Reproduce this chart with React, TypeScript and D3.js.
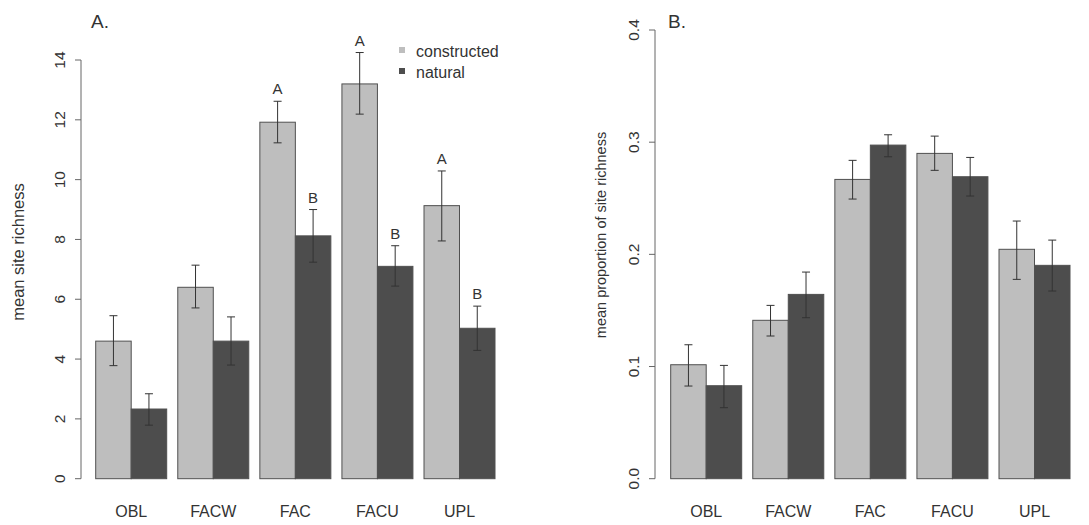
import * as d3 from "d3"

const categories = ["OBL", "FACW", "FAC", "FACU", "UPL"]
const seriesNames = ["constructed", "natural"]

// panel A: mean site richness
const richConstructed = [4.6, 6.4, 11.92, 13.2, 9.13]
const richConstructedLo = [3.78, 5.71, 11.23, 12.19, 7.95]
const richConstructedHi = [5.45, 7.14, 12.62, 14.25, 10.29]
const richNatural = [2.33, 4.6, 8.12, 7.1, 5.03]
const richNaturalLo = [1.79, 3.8, 7.24, 6.44, 4.29]
const richNaturalHi = [2.84, 5.41, 9.0, 7.79, 5.77]
const letterConstructed = ["", "", "A", "A", "A"]
const letterNatural = ["", "", "B", "B", "B"]
const richTicks = [0, 2, 4, 6, 8, 10, 12, 14]

// panel B: mean proportion of site richness
const propConstructed = [0.1016, 0.1412, 0.2668, 0.29, 0.2045]
const propConstructedLo = [0.0826, 0.1272, 0.2493, 0.2749, 0.1777]
const propConstructedHi = [0.1194, 0.1545, 0.2838, 0.3054, 0.2297]
const propNatural = [0.0829, 0.1643, 0.2974, 0.2692, 0.1902]
const propNaturalLo = [0.0633, 0.1435, 0.287, 0.252, 0.1673]
const propNaturalHi = [0.101, 0.1842, 0.3066, 0.2864, 0.2127]
const propTicks = ["0.0", "0.1", "0.2", "0.3", "0.4"]

const colors = { constructed: "#bebebe", natural: "#4d4d4d" }
const font = "'Liberation Sans', Arial, sans-serif"
const ink = "#333"

interface Series {
  name: string
  values: number[]
  lo: number[]
  hi: number[]
  letters?: string[]
}

interface PanelProps {
  title: string
  titleX: number
  yLabel: string
  yLabelX: number
  yLabelY: number
  yLabelSize: number
  axisX: number
  x0: number
  x1: number
  y: d3.ScaleLinear<number, number>
  ticks: { v: number; label: string }[]
  series: Series[]
}

const Panel = (p: PanelProps) => {
  const x = d3.scaleBand<string>().domain(categories).range([p.x0, p.x1]).paddingInner(0.135)
  const inner = d3.scaleBand<string>().domain(seriesNames).range([0, x.bandwidth()])
  const [yBottom, yTop] = p.y.range()
  return (
    <g fontFamily={font} fill={ink}>
      <text x={p.titleX} y={28} fontSize={19}>{p.title}</text>
      {/* y axis */}
      <line x1={p.axisX} x2={p.axisX} y1={yTop} y2={yBottom} stroke="#666" />
      {p.ticks.map(t => (
        <g key={t.label}>
          <line x1={p.axisX - 6} x2={p.axisX} y1={p.y(t.v)} y2={p.y(t.v)} stroke="#666" />
          <text
            transform={`translate(${p.axisX - 16},${p.y(t.v)}) rotate(-90)`}
            textAnchor="middle"
            fontSize={15.5}
          >
            {t.label}
          </text>
        </g>
      ))}
      <text
        transform={`translate(${p.yLabelX},${p.yLabelY}) rotate(-90)`}
        textAnchor="middle"
        fontSize={p.yLabelSize}
      >
        {p.yLabel}
      </text>
      {/* bars */}
      {p.series.map(s =>
        categories.map((c, i) => {
          const bx = (x(c) ?? 0) + (inner(s.name) ?? 0)
          const cx = bx + inner.bandwidth() / 2
          return (
            <g key={s.name + c}>
              <rect
                x={bx}
                y={p.y(s.values[i])}
                width={inner.bandwidth()}
                height={p.y(0) - p.y(s.values[i])}
                fill={colors[s.name as keyof typeof colors]}
                stroke="#505050"
                strokeWidth={1}
              />
              <line x1={cx} x2={cx} y1={p.y(s.lo[i])} y2={p.y(s.hi[i])} stroke="#333" />
              <line x1={cx - 4} x2={cx + 4} y1={p.y(s.lo[i])} y2={p.y(s.lo[i])} stroke="#333" />
              <line x1={cx - 4} x2={cx + 4} y1={p.y(s.hi[i])} y2={p.y(s.hi[i])} stroke="#333" />
              {s.letters && s.letters[i] && (
                <text x={cx} y={p.y(s.hi[i]) - 7} textAnchor="middle" fontSize={15}>
                  {s.letters[i]}
                </text>
              )}
            </g>
          )
        })
      )}
      {/* category labels */}
      {categories.map(c => (
        <text key={c} x={(x(c) ?? 0) + x.bandwidth() / 2} y={517} textAnchor="middle" fontSize={16}>
          {c}
        </text>
      ))}
    </g>
  )
}

const App = () => {
  const yA = d3.scaleLinear().domain([0, 14]).range([478.7, 60])
  const yB = d3.scaleLinear().domain([0, 0.4]).range([478.7, 30])

  return (
    <svg
      width={1089}
      height={525}
      style={{ position: "absolute", left: 0, top: 0, background: "#fff" }}
    >
      <Panel
        title="A."
        titleX={91}
        yLabel="mean site richness"
        yLabelX={24}
        yLabelY={252}
        yLabelSize={16.5}
        axisX={81}
        x0={95.7}
        x1={495}
        y={yA}
        ticks={richTicks.map(v => ({ v, label: String(v) }))}
        series={[
          {
            name: "constructed",
            values: richConstructed,
            lo: richConstructedLo,
            hi: richConstructedHi,
            letters: letterConstructed
          },
          {
            name: "natural",
            values: richNatural,
            lo: richNaturalLo,
            hi: richNaturalHi,
            letters: letterNatural
          }
        ]}
      />
      {/* legend */}
      <g fontFamily={font} fill={ink} fontSize={16}>
        {seriesNames.map((s, i) => (
          <g key={s}>
            <rect x={399} y={47 + i * 21} width={6} height={6} fill={colors[s as keyof typeof colors]} />
            <text x={416} y={57 + i * 21}>{s}</text>
          </g>
        ))}
      </g>
      <Panel
        title="B."
        titleX={668}
        yLabel="mean proportion of site richness"
        yLabelX={606}
        yLabelY={235}
        yLabelSize={14.5}
        axisX={655}
        x0={670.7}
        x1={1070}
        y={yB}
        ticks={propTicks.map(t => ({ v: +t, label: t }))}
        series={[
          { name: "constructed", values: propConstructed, lo: propConstructedLo, hi: propConstructedHi },
          { name: "natural", values: propNatural, lo: propNaturalLo, hi: propNaturalHi }
        ]}
      />
    </svg>
  )
}

export default App
